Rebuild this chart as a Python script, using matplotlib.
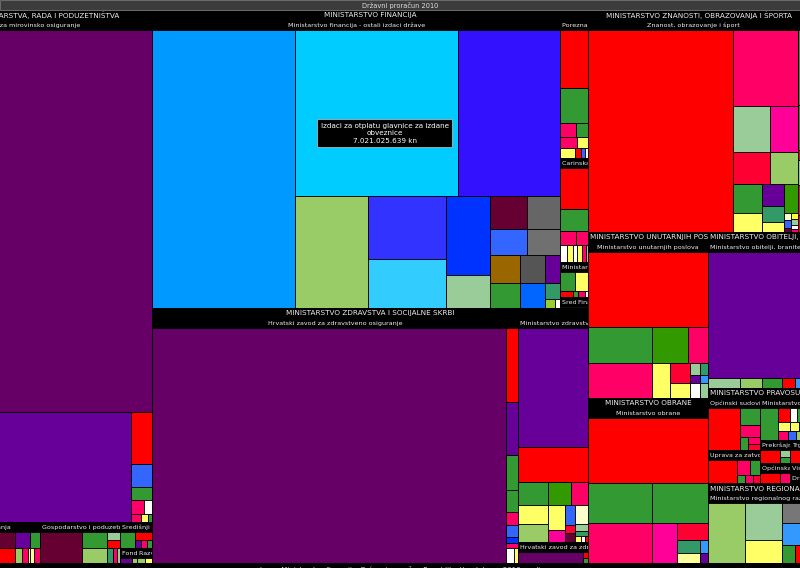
import matplotlib.pyplot as plt
from matplotlib.patches import Rectangle
from matplotlib.transforms import Bbox

# ---- data: amounts in million kn ----
title = "Državni proračun 2010"

ministries = ["MINISTARSTVO GOSPODARSTVA, RADA I PODUZETNIŠTVA",
              "MINISTARSTVO FINANCIJA",
              "MINISTARSTVO ZDRAVSTVA I SOCIJALNE SKRBI",
              "MINISTARSTVO ZNANOSTI, OBRAZOVANJA I ŠPORTA",
              "MINISTARSTVO UNUTARNJIH POSLOVA",
              "MINISTARSTVO OBRANE",
              "MINISTARSTVO OBITELJI, BRANITELJA I MEĐUGENERACIJSKE SOLIDARNOSTI",
              "MINISTARSTVO PRAVOSUĐA",
              "MINISTARSTVO REGIONALNOG RAZVOJA, ŠUMARSTVA I VODNOGA GOSPODARSTVA"]
ministry_values = [39400, 33800, 28900, 12730, 5170, 5140, 4090, 2490, 2100]

rada_units = ["Hrvatski zavod za mirovinsko osiguranje", "Uprava za politiku zapošljavanja",
              "Gospodarstvo i poduzetništvo", "Središnji registar osiguranika",
              "Fond za razvoj i zapošljavanje", "Razvoj poduzetništva"]
rada_values = [35700, 1723, 851, 216, 66, 58]

fin_units = ["Ministarstvo financija - ostali izdaci države", "Porezna uprava", "Carinska uprava",
             "Ministarstvo financija", "Središnji državni ured", "Financijska agencija"]
fin_values = [30500, 1000, 755, 255, 45, 35]

zdr_units = ["Hrvatski zavod za zdravstveno osiguranje", "Ministarstvo zdravstva i socijalne skrbi",
             "Hrvatski zavod za zdravstveno osiguranje zaštite zdravlja na radu"]
zdr_values = [23270, 4075, 382]

mzos_units = ["Znanost, obrazovanje i šport", "Agencija za znanost i visoko obrazovanje"]
mzos_values = [11575, 606]

mup_unit = "Ministarstvo unutarnjih poslova"
obrane_unit = "Ministarstvo obrane"
obitelji_unit = "Ministarstvo obitelji, branitelja i međugeneracijske solidarnosti"
reg_unit = "Ministarstvo regionalnog razvoja, šumarstva i vodnoga gospodarstva"

pra_units = ["Općinski sudovi", "Uprava za zatvorski sustav", "Ministarstvo pravosuđa",
             "Prekršajni sudovi", "Trgovački sudovi", "Općinska državna odvjetništva",
             "Visoki prekršajni sud", "Državno odvjetništvo"]
pra_values = [703, 446, 535, 179, 114, 156, 49, 49]

# budget items (value, colour); nested lists alternate direction
hzmo_cells = [(27200, '#660066'),
              [(7200, '#660099'),
               [(286, '#ff0000'), (131, '#3366ff'), (69, '#339933'),
                [(50, '#ff0066'), (30, '#ffffff')], [(20, '#ff0066'), (15, '#ffff66'), (8, '#339933')]]]]
b1_cells = [[(570, '#660033'), (534, '#ff0000')],
            [(62, '#660099'), [(27, '#99cc66'), (23, '#ff0066'), (8, '#ffff66')]],
            [(42, '#339933'), [(16, '#ffff99'), (23, '#ff0066')]]]
b2_cells = [(339, '#660033'),
            [(104, '#339933'), (98, '#99cc66')],
            [(27, '#99cc99'), (27, '#ff0000'), [(23, '#339966'), (16, '#ff0066'), (12, '#99cc99')]]]
sred_cells = [(62, '#339933'), [(35, '#ff0000'), [(12, '#660099'), (12, '#ff0066'), (10, '#339933')]]]
fond_cells = [(10, '#660099'), (4, '#99cc66')]
ra_cells = [(6, '#99cc66'), (6, '#ffff66')]

ostali_cells = [(10340, '#0099ff'),
                [[(7021, '#00ccff'), (4400, '#3311ff')],
                 [(2100, '#99cc66'),
                  [(1290, '#3333ff'), (1005, '#33ccff')],
                  [(900, '#0033ff'), (377, '#99cc99')],
                  [[(317, '#660033'), (283, '#666666')],
                   [(250, '#3366ff'), (223, '#707070')],
                   [(218, '#996600'), (182, '#555555'), (109, '#660099')],
                   [(195, '#339933'), (162, '#0066ff'), [(60, '#339966'), [(25, '#99cc33'), (12, '#ffffff')]]]]]]]
porezna_cells = [(422, '#ff0000'), (255, '#339933'),
                 [(58, '#ff0066'), (44, '#339933')],
                 [(47, '#ff0066'), (31, '#ffff66')],
                 [(39, '#ffff66'), (16, '#ff0000'), (10, '#3366ff'), (8, '#ffffff')]]
carinska_cells = [(306, '#ff0000'), (160, '#339933'),
                  [(58, '#ff0066'), (44, '#ff0066')],
                  [(30, '#ffffff'), (24, '#ffff66'), (22, '#ffffff'), (20, '#ffff66'), (16, '#ff0066'), (12, '#99cc99')]]
minfin_cells = [[(68, '#339933'), (63, '#ffff66')],
                [(20, '#ff0000'), (8, '#339933'), (10, '#ff0066'), (6, '#ffffff')]]
tiny_cells = [(1, '#99cc33')]

hzzo_cells = [(21630, '#660066'),
              [(231, '#ff0000'), (165, '#660099'), (109, '#339933'), (69, '#339933'), (41, '#ff0066'),
               (37, '#3366ff'), (19, '#0033ff'), (16, '#ff0066'), [(30, '#ffffff'), (17, '#ffff66')]]]
minzdr_cells = [(2148, '#660099'), (637, '#ff0000'),
                [(172, '#339933'), (132, '#339900'), (97, '#ff0066')],
                [[(148, '#ffff66'), (140, '#99cc66')],
                 [(110, '#ffff66'), (53, '#ff0099')],
                 [(52, '#3366ff'), (21, '#ff0033'), (23, '#660033')],
                 [(68, '#ffffcc'), (24, '#99cc99'), (17, '#339966'), [(8, '#ffff66'), (6, '#ffffff'), (5, '#ff0000')]]]]
hz2_cells = [(180, '#660066'), [(8, '#ff0000'), (6, '#339933')]]

znanost_cells = [(7563, '#ff0000'),
                 [(1287, '#ff0066'),
                  [(445, '#99cc99'), (328, '#ff0099')],
                  [(316, '#ff0033'), (233, '#99cc66')],
                  [[(218, '#339933'), (146, '#ffff66')],
                   [(120, '#660099'), (88, '#339966'), (52, '#ffff66')],
                   [(108, '#339900'),
                    [[(12, '#ffffcc'), (14, '#3366ff'), (8, '#660033')],
                     [(12, '#ffff33'), (10, '#99cc99'), (8, '#ffffff'), (6, '#ff0066')]]]]]]
agencija_cells = [(75, '#339933'), (45, '#339900'), (10, '#ff0000'), (25, '#99cc66'), (30, '#ff0066'), (17, '#ff0000')]

mup_cells = [(2340, '#ff0000'),
             [(599, '#339933'), (337, '#339900'), (187, '#ff0066')],
             [(582, '#ff0066'), (164, '#ffff66'),
              [[(104, '#ff0033'), [(31, '#99cc99'), (21, '#660099')], [(25, '#339966'), (17, '#3399ff')]],
               [(78, '#ffff66'), (39, '#ffffff'), (31, '#99cc99')]]]]
obrane_cells = [(2028, '#ff0000'),
                [(666, '#339933'), (582, '#339933')],
                [(666, '#ff0066'), (260, '#ff0099'),
                 [(137, '#ff0033'), [(78, '#339966'), (27, '#3399ff')], [(60, '#ffff99'), (21, '#660099')]]]]
obitelji_cells = [(3309, '#660099'),
                  [(83, '#99cc99'), (57, '#99cc66'), (52, '#339933'), (34, '#ff0000'), (36, '#3399ff')]]
reg_cells = [(577, '#99cc66'),
             [(356, '#99cc99'), (221, '#ffff66')],
             [(140, '#777777'), (154, '#3399ff'), [(61, '#339933'), (23, '#ff0000'), (42, '#ff0066')]]]

opcinski_cells = [(349, '#ff0000'),
                  [(88, '#339933'), (62, '#ff0066'), [(27, '#339933'), [(22, '#ff0066'), (19, '#ff0033')]]]]
uprava_cells = [(173, '#ff0000'),
                [[(51, '#ff0066'), (39, '#339933')], [(17, '#339933'), (17, '#ff0066'), (15, '#ff0033')]]]
minpra_cells = [(150, '#339933'),
                [[(44, '#ff0000'), (25, '#ffffff'), (44, '#339933')],
                 [(28, '#ffff66'), (21, '#ffff66'), (23, '#339933')],
                 [(23, '#ff0066'), (19, '#3366ff'), (30, '#99cc66')]]]
prekrsajni_cells = [(68, '#ff0000'), [(18, '#99cc99'), (16, '#339933')]]
trgovacki_cells = [(30, '#ff0000'), (20, '#ff0066')]
odvjet_cells = [(42, '#ff0000'), (21, '#ff0066')]

tooltip_text = "Izdaci za otplatu glavnice za izdane\nobveznice"
tooltip_value = 7021025639
footer = "Izvor: Ministarstvo financija, Državni proračun Republike Hrvatske za 2010. godinu"

# ---- figure ----
plt.rcParams['font.family'] = 'DejaVu Sans'
fig = plt.figure(figsize=(8, 5.68), dpi=100)
fig.patch.set_facecolor('black')
ax = fig.add_axes([0, 0, 1, 1])
ax.set_xlim(0, 800)
ax.set_ylim(568, 0)
ax.axis('off')
renderer = fig.canvas.get_renderer()


def split(r, vals, horizontal):
    x, y, w, h = r
    tot = float(sum(vals))
    out = []
    for v in vals:
        if horizontal:
            d = w * v / tot
            out.append((x, y, d, h))
            x += d
        else:
            d = h * v / tot
            out.append((x, y, w, d))
            y += d
    return out


def total(n):
    return n[0] if isinstance(n, tuple) else sum(total(c) for c in n)


def box(r, c):
    ax.add_patch(Rectangle((r[0], r[1]), r[2], r[3], facecolor=c, edgecolor='black', lw=0.6))


def tile(r, n, horizontal):
    if isinstance(n, tuple):
        box(r, n[1])
        return [r]
    out = []
    for rr, c in zip(split(r, [total(c) for c in n], horizontal), n):
        out += tile(rr, c, not horizontal)
    return out


def band(r, label, size=4.6):
    x, y, w, h = r
    hb = min(10, h)
    ax.add_patch(Rectangle((x, y), w, hb, facecolor='black', edgecolor='none'))
    t = ax.text(x + w / 2, y + hb / 2 + 0.3, label, color='#eeeeee', fontsize=size,
                ha='center', va='center')
    if t.get_window_extent(renderer).width > w - 3:
        t.set_ha('left')
        t.set_x(x + 2)
    (X0, Y0), (X1, Y1) = ax.transData.transform([(x, y), (x + w, y + hb)])
    t.set_clip_path(None)
    t.set_clip_box(Bbox.from_extents(min(X0, X1), min(Y0, Y1), max(X0, X1), max(Y0, Y1)))
    t.set_clip_on(True)
    return (x, y + hb, w, h - hb)


def group(r, label, nest, horizontal):
    c = band(r, label)
    if c[3] > 0.5 and nest:
        return tile(c, nest, horizontal)
    return []


def head(r, label):
    return band(r, label, size=5.25)


# ---- layout ----
v = ministry_values
area = (-122, 10, 931, 553)
cols = split(area, [v[0], v[1] + v[2], sum(v[3:])], True)
fin_r, zdr_r = split(cols[1], [v[1], v[2]], False)
mzos_r, rest_r = split(cols[2], [v[3], sum(v[4:])], False)
left_r, right_r = split(rest_r, [v[4] + v[5], sum(v[6:])], True)
mup_r, obr_r = split(left_r, [v[4], v[5]], False)
obi_r, pra_r, reg_r = split(right_r, v[6:], False)

# gospodarstvo, rad
c = head(cols[0], ministries[0])
top, bottom = split(c, [rada_values[0], sum(rada_values[1:])], False)
group(top, rada_units[0], hzmo_cells, False)
b1, b2, b3 = split(bottom, [rada_values[1], rada_values[2], sum(rada_values[3:])], True)
group(b1, rada_units[1], b1_cells, True)
group(b2, rada_units[2], b2_cells, True)
s_r, f_row = split(b3, [rada_values[3], sum(rada_values[4:])], False)
group(s_r, rada_units[3], sred_cells, True)
for rr, name, nest in zip(split(f_row, rada_values[4:], True), rada_units[4:], [fond_cells, ra_cells]):
    group(rr, name, nest, True)

# financije
c = head(fin_r, ministries[1])
ost_r, side_r = split(c, [fin_values[0], sum(fin_values[1:])], True)
ost_rects = group(ost_r, fin_units[0], ostali_cells, True)
p_r, cr_r, m_r, sf_r = split(side_r, fin_values[1:4] + [sum(fin_values[4:])], False)
group(p_r, fin_units[1], porezna_cells, False)
group(cr_r, fin_units[2], carinska_cells, False)
group(m_r, fin_units[3], minfin_cells, False)
for rr, name in zip(split(sf_r, fin_values[4:], True), fin_units[4:]):
    group(rr, name, tiny_cells, True)

# zdravstvo
c = head(zdr_r, ministries[2])
hz_r, zc_r = split(c, [zdr_values[0], sum(zdr_values[1:])], True)
group(hz_r, zdr_units[0], hzzo_cells, True)
mz_r, hz2_r = split(zc_r, zdr_values[1:], False)
group(mz_r, zdr_units[1], minzdr_cells, False)
group(hz2_r, zdr_units[2], hz2_cells, True)

# znanost
c = head(mzos_r, ministries[3])
zn_r, ag_r = split(c, mzos_values, True)
group(zn_r, mzos_units[0], znanost_cells, True)
group(ag_r, mzos_units[1], agencija_cells, False)

# unutarnji poslovi, obrana, obitelj, regionalni razvoj
group(head(mup_r, ministries[4]), mup_unit, mup_cells, False)
group(head(obr_r, ministries[5]), obrane_unit, obrane_cells, False)
group(head(obi_r, ministries[6]), obitelji_unit, obitelji_cells, False)
group(head(reg_r, ministries[8]), reg_unit, reg_cells, True)

# pravosuđe
c = head(pra_r, ministries[7])
lc, rc = split(c, [sum(pra_values[:2]), sum(pra_values[2:])], True)
o_r, u_r = split(lc, pra_values[:2], False)
group(o_r, pra_units[0], opcinski_cells, True)
group(u_r, pra_units[1], uprava_cells, True)
mp_r, row2, row3 = split(rc, [pra_values[2], sum(pra_values[3:5]), sum(pra_values[5:])], False)
group(mp_r, pra_units[2], minpra_cells, True)
pk_r, tg_r = split(row2, pra_values[3:5], True)
group(pk_r, pra_units[3], prekrsajni_cells, True)
group(tg_r, pra_units[4], trgovacki_cells, True)
od_r, vd_r = split(row3, [pra_values[5], sum(pra_values[6:])], True)
group(od_r, pra_units[5], odvjet_cells, True)
for rr, name in zip(split(vd_r, pra_values[6:], False), pra_units[6:]):
    group(rr, name, None, True)

# title bar and footer strip
ax.add_patch(Rectangle((0, 0), 800, 10, facecolor='#3c3c3c', edgecolor='#7a7a7a', lw=0.6))
ax.text(400, 5.3, title, color='#e0e0e0', fontsize=4.8, ha='center', va='center')
ax.add_patch(Rectangle((0, 563), 800, 6, facecolor='black', edgecolor='none'))
ax.text(405, 569.5, footer, color='#dddddd', fontsize=5, ha='center', va='center')

# tooltip over the hovered item
tx, ty, tw, th = ost_rects[1]
label = tooltip_text + "\n" + "{:,}".format(tooltip_value).replace(",", ".") + " kn"
ax.text(tx + tw / 2 + 8, ty + th / 2 + 20, label, color='white', fontsize=5.2,
        ha='center', va='center', linespacing=1.3,
        bbox=dict(boxstyle='square,pad=0.5', facecolor='black', edgecolor='#9fb8c8', lw=0.6))

fig.savefig('out.png', dpi=100, facecolor='black')
